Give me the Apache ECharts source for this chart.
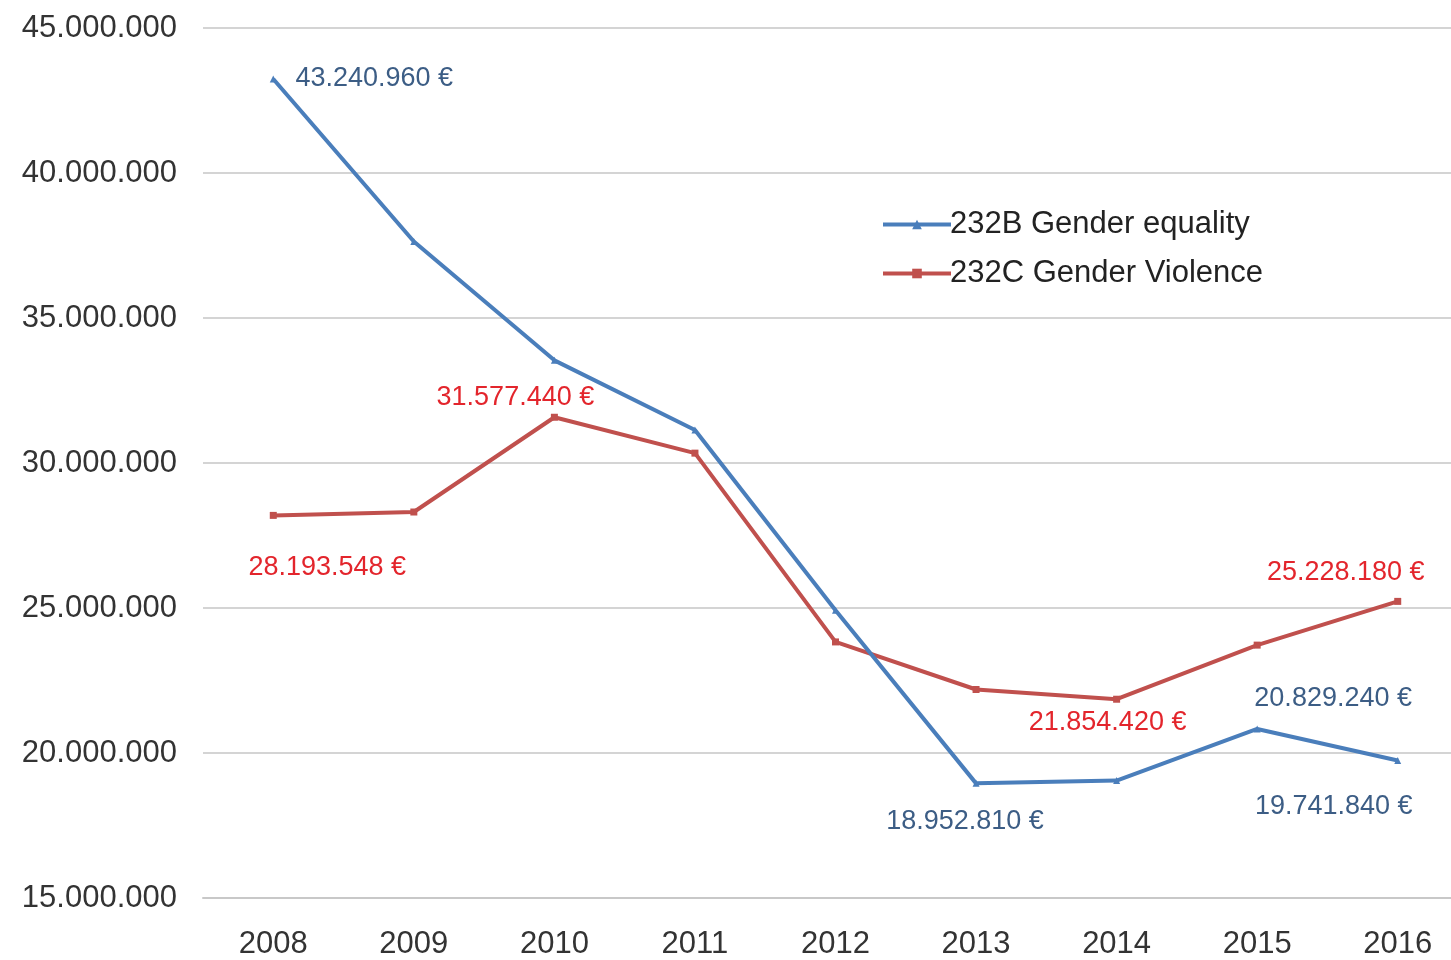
<!DOCTYPE html>
<html>
<head>
<meta charset="utf-8">
<style>
  html, body { margin: 0; padding: 0; background: #fff; overflow: hidden; }
  #chart { width: 1468px; height: 960px; }
</style>
<script src="https://cdn.jsdelivr.net/npm/echarts@6/dist/echarts.min.js"></script>
</head>
<body>
<div id="chart"></div>
<script>
// data
var years = ['2008', '2009', '2010', '2011', '2012', '2013', '2014', '2015', '2016'];
var equality = [43240960, 37640000, 33540000, 31140000, 24920000, 18952810, 19050000, 20829240, 19741840];
var violence = [28193548, 28310000, 31577440, 30340000, 23830000, 22190000, 21854420, 23720000, 25228180];
var seriesNames = ['232B Gender equality', '232C Gender Violence'];
var yTicks = [15000000, 20000000, 25000000, 30000000, 35000000, 40000000, 45000000];

// which points carry a label, and where it sits relative to the point (style only)
var equalityLabelOffsets = { 0: [101, 0], 5: [-11, 38], 7: [76, -30], 8: [-64, 46] };
var violenceLabelOffsets = { 0: [54, 52], 2: [-39, -20], 6: [-9, 23], 8: [-52, -29] };

var FONT = '"Liberation Sans", Arial, sans-serif';

function dots (v) {
  return String(v).replace(/\B(?=(\d{3})+(?!\d))/g, '.');
}

function buildPoints (values, offsets, color) {
  return values.map(function (v, i) {
    var off = offsets[i];
    if (!off) return { value: v, label: { show: false } };
    return {
      value: v,
      label: {
        show: true,
        position: 'inside',
        align: 'center',
        verticalAlign: 'middle',
        offset: off,
        color: color,
        fontSize: 27,
        fontFamily: FONT,
        formatter: function (p) { return dots(p.value) + ' €'; }
      }
    };
  });
}

var chart = echarts.init(document.getElementById('chart'));

chart.setOption({
  animation: false,
  backgroundColor: '#fff',
  grid: { left: 203, right: 0, top: 28, bottom: 62, containLabel: false },
  legend: {
    orient: 'vertical',
    left: 876,
    top: 204,
    itemWidth: 68,
    itemHeight: 12,
    itemGap: 18,
    lineStyle: { width: 4 },
    textStyle: { fontSize: 31, color: '#222', fontFamily: FONT, padding: [0, 0, 0, -6] },
    data: seriesNames
  },
  xAxis: {
    type: 'category',
    data: years,
    boundaryGap: true,
    axisLine: { show: true, lineStyle: { color: '#c8c8c8', width: 2 } },
    axisTick: { show: false },
    axisLabel: { color: '#333', fontSize: 31, fontFamily: FONT, margin: 31 }
  },
  yAxis: {
    type: 'value',
    min: yTicks[0],
    max: yTicks[yTicks.length - 1],
    interval: 5000000,
    axisLine: { show: false },
    axisTick: { show: false },
    splitLine: { lineStyle: { color: '#d4d4d4', width: 2 } },
    axisLabel: {
      color: '#333',
      fontSize: 31,
      fontFamily: FONT,
      margin: 26,
      formatter: function (v) { return dots(v); }
    }
  },
  series: [
    {
      name: seriesNames[0],
      type: 'line',
      data: buildPoints(equality, equalityLabelOffsets, '#3c5d85'),
      color: '#4a7ebb',
      lineStyle: { width: 4, color: '#4a7ebb' },
      symbol: 'triangle',
      symbolSize: 7,
      itemStyle: { color: '#4a7ebb' },
      z: 3
    },
    {
      name: seriesNames[1],
      type: 'line',
      data: buildPoints(violence, violenceLabelOffsets, '#e3252c'),
      color: '#c0504d',
      lineStyle: { width: 4, color: '#c0504d' },
      symbol: 'rect',
      symbolSize: 7,
      itemStyle: { color: '#c0504d' },
      z: 2
    }
  ]
});
</script>
</body>
</html>
